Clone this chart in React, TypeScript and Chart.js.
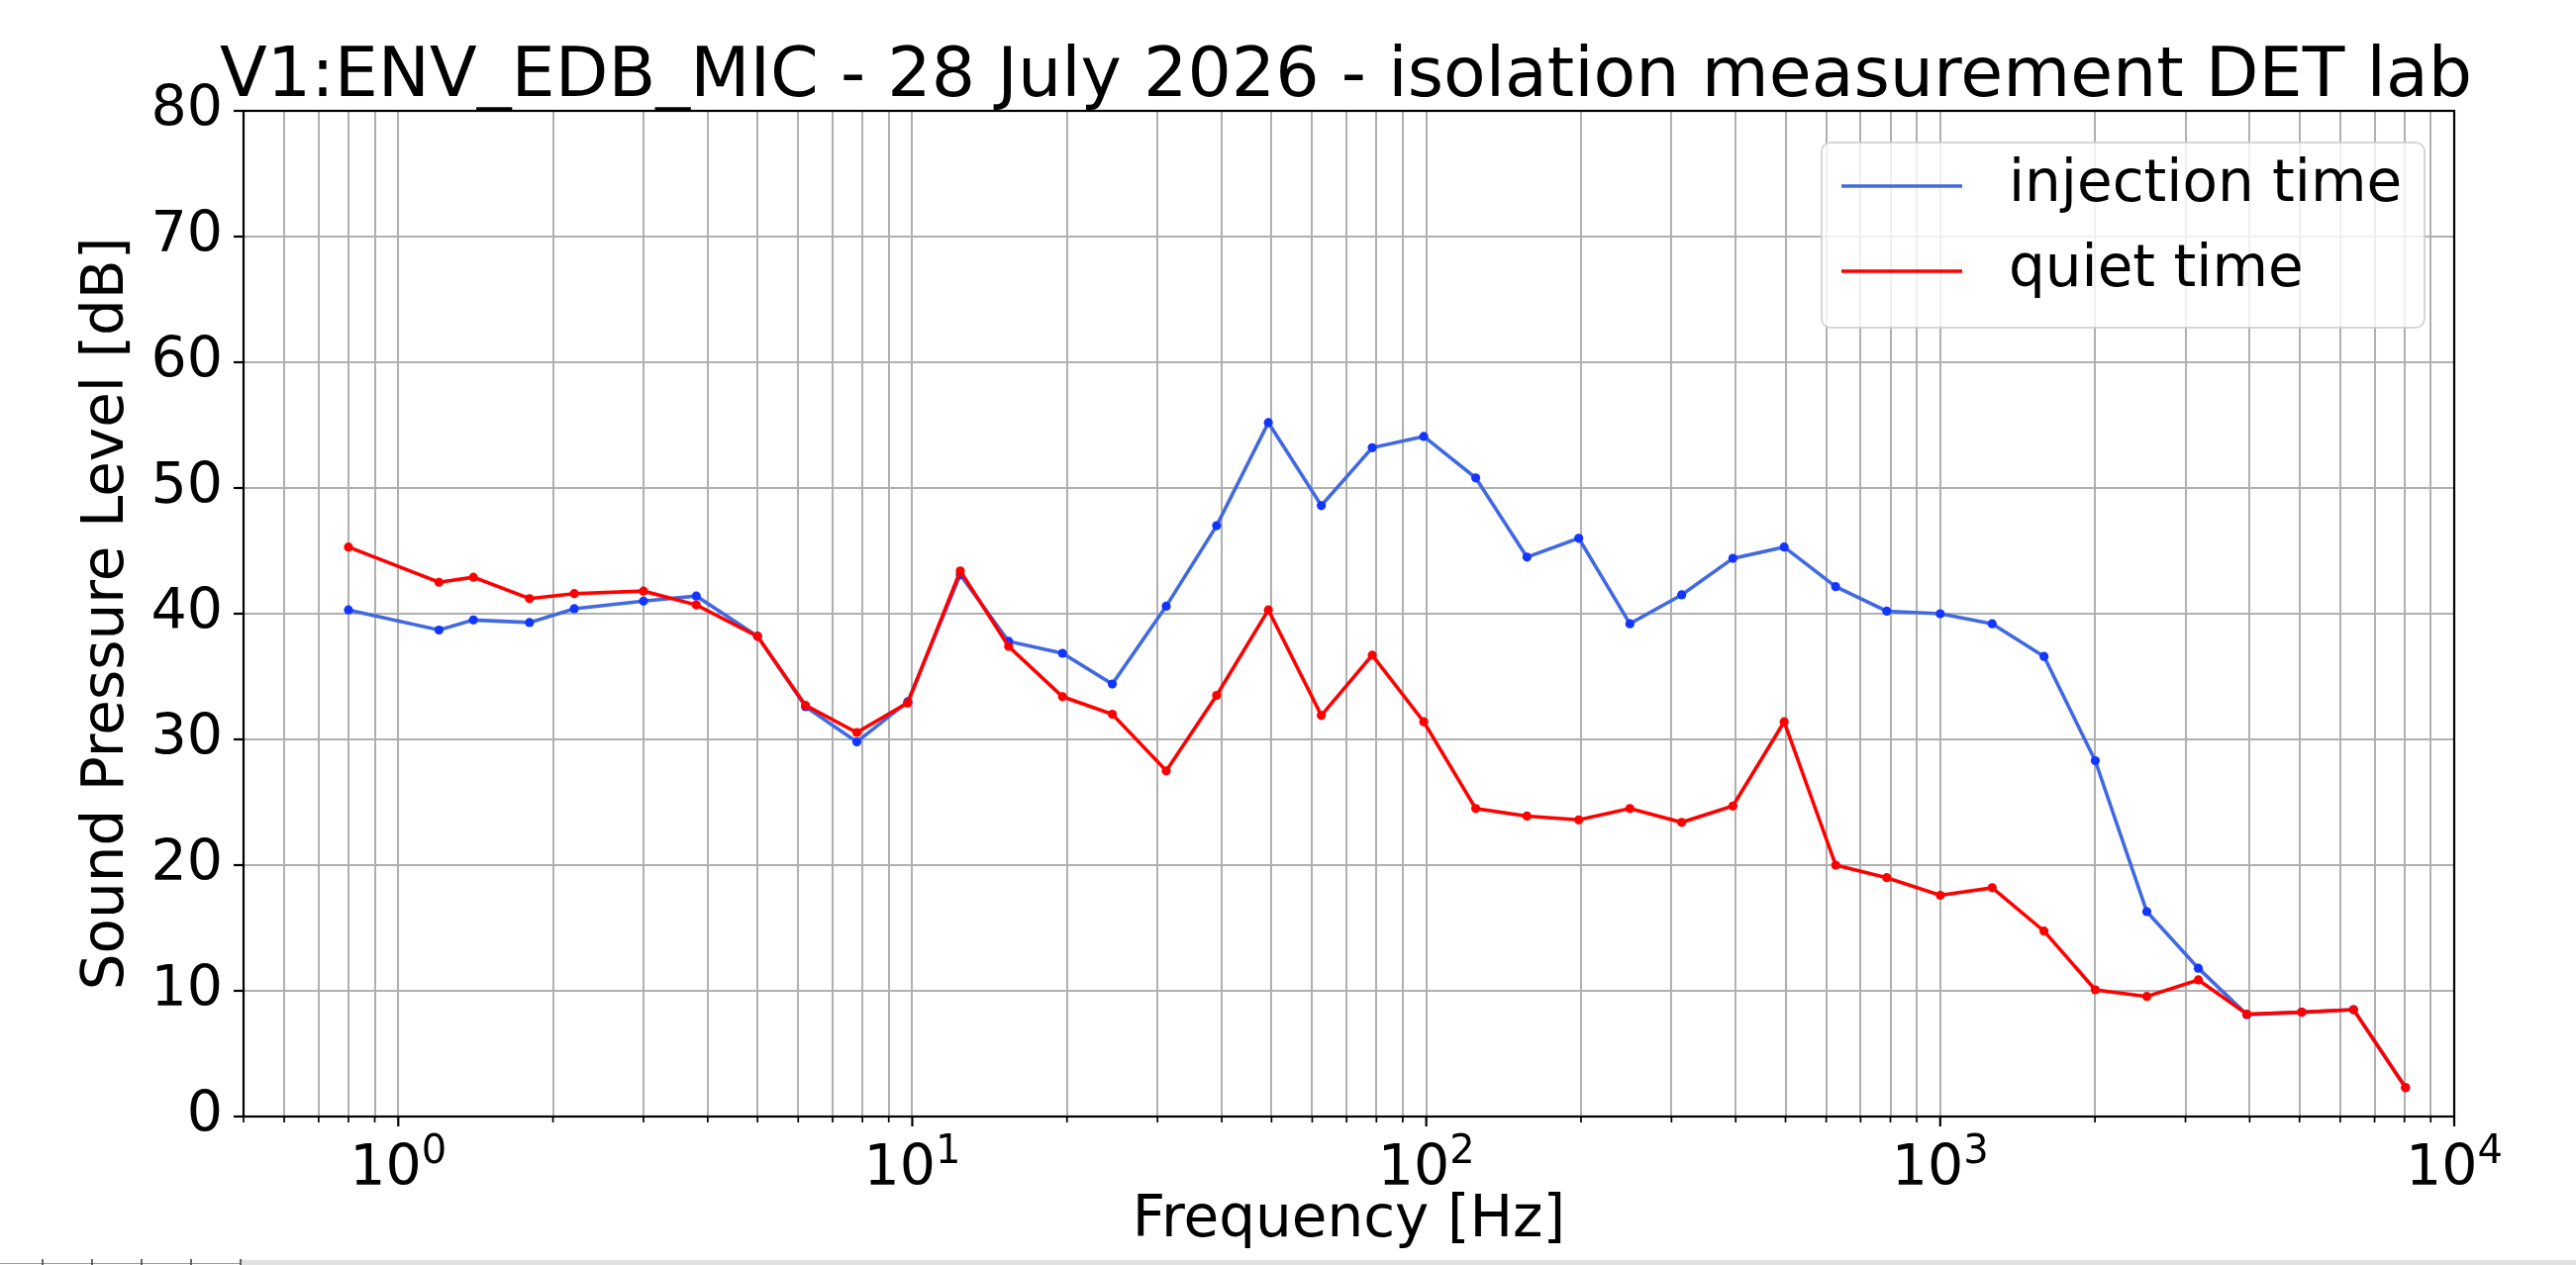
import React, { useEffect, useRef } from 'react';
import { Chart, registerables } from 'chart.js';

Chart.register(...registerables);

// ---------------- data ----------------
const titleText = 'V1:ENV_EDB_MIC - 28 July 2026 - isolation measurement DET lab';
const xAxisTitle = 'Frequency [Hz]';
const yAxisTitle = 'Sound Pressure Level [dB]';
const seriesLabels = ['injection time', 'quiet time'];

const frequencies = [
  0.8, 1.2, 1.4, 1.8, 2.2, 3.0, 3.8, 5.0, 6.2, 7.8,
  9.8, 12.4, 15.4, 19.6, 24.5, 31.2, 39.1, 49.3, 62.5, 78.5,
  98.9, 124.8, 157, 198, 249, 314, 395, 497, 626, 787,
  1000, 1262, 1592, 2003, 2523, 3178, 3950, 5050, 6370, 8040,
];

const injectionTime = [
  40.3, 38.7, 39.5, 39.3, 40.4, 41.0, 41.4, 38.2, 32.6, 29.8,
  33.0, 43.1, 37.8, 36.85, 34.4, 40.6, 47.0, 55.2, 48.6, 53.2,
  54.1, 50.8, 44.5, 46.0, 39.2, 41.5, 44.4, 45.3, 42.15, 40.2,
  40.0, 39.2, 36.6, 28.3, 16.3, 11.8, 8.1, 8.3, 8.5, 2.3,
];

const quietTime = [
  45.3, 42.5, 42.9, 41.2, 41.6, 41.8, 40.7, 38.2, 32.7, 30.55,
  32.9, 43.4, 37.4, 33.4, 32.0, 27.5, 33.5, 40.3, 31.9, 36.7,
  31.4, 24.5, 23.9, 23.6, 24.5, 23.4, 24.7, 31.4, 20.0, 19.0,
  17.6, 18.2, 14.75, 10.08, 9.55, 10.87, 8.15, 8.3, 8.5, 2.3,
];

const yTickValues = [0, 10, 20, 30, 40, 50, 60, 70, 80];
const xMajorTicks = [1, 10, 100, 1000, 10000];
const xTickBase = '10';
const xTickExponents = ['0', '1', '2', '3', '4'];
const xMin = 0.5;
const xMax = 10000;

// ---------------- styling ----------------
const W = 2602;
const H = 1278;
const FONT = "'DejaVu Sans', 'Liberation Sans', sans-serif";
const BLUE_LINE = '#4169E1';
const BLUE_MARK = '#1236ff';
const RED = '#ff0000';
const GRID = '#b0b0b0';
const TICK_FONT = 57;
const LABEL_FONT = 58;
const TITLE_FONT = 69.8;

const titlePlugin = {
  id: 'mplTitle',
  afterDraw(chart: any) {
    const { ctx, chartArea: a } = chart;
    ctx.save();
    ctx.fillStyle = '#000';
    ctx.font = `${TITLE_FONT}px ${FONT}`;
    ctx.textAlign = 'center';
    ctx.textBaseline = 'alphabetic';
    ctx.fillText(titleText, (a.left + a.right) / 2 - 3, a.top - 15.5);
    ctx.restore();
  },
};

const framePlugin = {
  id: 'mplFrame',
  afterDatasetsDraw(chart: any) {
    const { ctx, chartArea: a, scales } = chart;
    const xs = scales.x;
    const ys = scales.y;
    ctx.save();
    ctx.strokeStyle = '#000';
    ctx.lineCap = 'butt';
    ctx.lineWidth = 2.2;
    ys.ticks.forEach((t: any) => {
      const y = ys.getPixelForValue(t.value);
      ctx.beginPath();
      ctx.moveTo(a.left - 10, y);
      ctx.lineTo(a.left, y);
      ctx.stroke();
    });
    xs.ticks.forEach((t: any) => {
      const x = xs.getPixelForValue(t.value);
      ctx.lineWidth = t.major ? 2.2 : 1.7;
      ctx.beginPath();
      ctx.moveTo(x, a.bottom);
      ctx.lineTo(x, a.bottom + (t.major ? 10 : 6));
      ctx.stroke();
    });
    ctx.lineWidth = 2.2;
    ctx.strokeRect(a.left, a.top, a.right - a.left, a.bottom - a.top);
    ctx.restore();
  },
};

// power-of-ten labels (base + raised exponent), placed with the x scale
const xPowerLabelPlugin = {
  id: 'xPowerLabels',
  afterDraw(chart: any) {
    const { ctx, chartArea: a, scales } = chart;
    const xs = scales.x;
    ctx.save();
    ctx.fillStyle = '#000';
    ctx.textAlign = 'left';
    ctx.textBaseline = 'alphabetic';
    xMajorTicks.forEach((v, i) => {
      const px = xs.getPixelForValue(v);
      const exp = xTickExponents[i];
      ctx.font = `${TICK_FONT}px ${FONT}`;
      const wb = ctx.measureText(xTickBase).width;
      ctx.font = `40px ${FONT}`;
      const we = ctx.measureText(exp).width;
      const left = px - (wb + we) / 2;
      ctx.font = `${TICK_FONT}px ${FONT}`;
      ctx.fillText(xTickBase, left, a.bottom + 69);
      ctx.font = `40px ${FONT}`;
      ctx.fillText(exp, left + wb, a.bottom + 47);
    });
    ctx.restore();
  },
};

const legendPlugin = {
  id: 'mplLegend',
  afterDraw(chart: any) {
    const { ctx, chartArea: a } = chart;
    const right = a.right - 30;
    const top = a.top + 32;
    const w = 609;
    const h = 187;
    const left = right - w;
    const r = 9;
    ctx.save();
    ctx.beginPath();
    ctx.moveTo(left + r, top);
    ctx.lineTo(right - r, top);
    ctx.arcTo(right, top, right, top + r, r);
    ctx.lineTo(right, top + h - r);
    ctx.arcTo(right, top + h, right - r, top + h, r);
    ctx.lineTo(left + r, top + h);
    ctx.arcTo(left, top + h, left, top + h - r, r);
    ctx.lineTo(left, top + r);
    ctx.arcTo(left, top, left + r, top, r);
    ctx.closePath();
    ctx.fillStyle = 'rgba(255,255,255,0.8)';
    ctx.fill();
    ctx.strokeStyle = 'rgba(204,204,204,0.8)';
    ctx.lineWidth = 2;
    ctx.stroke();

    const rows = [top + 44, top + 130];
    chart.data.datasets.forEach((ds: any, i: number) => {
      const y = rows[i];
      ctx.strokeStyle = ds.borderColor;
      ctx.lineWidth = 3.6;
      ctx.beginPath();
      ctx.moveTo(left + 20, y);
      ctx.lineTo(left + 142, y);
      ctx.stroke();
      ctx.fillStyle = '#000';
      ctx.font = `${LABEL_FONT}px ${FONT}`;
      ctx.textAlign = 'left';
      ctx.textBaseline = 'middle';
      ctx.fillText(ds.label, left + 189, y);
    });
    ctx.restore();
  },
};

const artifactPlugin = {
  id: 'bottomArtifact',
  afterDraw(chart: any) {
    const { ctx } = chart;
    ctx.save();
    ctx.fillStyle = '#e2e2e2';
    ctx.fillRect(243, 1273, W - 243, 5);
    ctx.strokeStyle = '#9a9a9a';
    ctx.lineWidth = 1.2;
    ctx.beginPath();
    ctx.moveTo(0, 1276.5);
    ctx.lineTo(243, 1276.5);
    ctx.stroke();
    ctx.strokeStyle = '#333';
    ctx.lineWidth = 1.5;
    [43, 93, 143, 193, 243].forEach((x) => {
      ctx.beginPath();
      ctx.moveTo(x, 1272);
      ctx.lineTo(x, 1278);
      ctx.stroke();
    });
    ctx.restore();
  },
};

export default function App() {
  const canvasRef = useRef<HTMLCanvasElement | null>(null);

  useEffect(() => {
    const canvas = canvasRef.current;
    if (!canvas) return;
    Chart.defaults.font.family = FONT;
    Chart.defaults.color = '#000';

    const chart = new Chart(canvas, {
      type: 'line',
      data: {
        datasets: [
          {
            label: seriesLabels[0],
            data: frequencies.map((f, i) => ({ x: f, y: injectionTime[i] })),
            borderColor: BLUE_LINE,
            backgroundColor: BLUE_MARK,
            pointBackgroundColor: BLUE_MARK,
            pointBorderColor: BLUE_MARK,
            pointBorderWidth: 0,
            pointRadius: 4.6,
            borderWidth: 3.6,
            tension: 0,
            fill: false,
            order: 1,
          },
          {
            label: seriesLabels[1],
            data: frequencies.map((f, i) => ({ x: f, y: quietTime[i] })),
            borderColor: RED,
            backgroundColor: RED,
            pointBackgroundColor: RED,
            pointBorderColor: RED,
            pointBorderWidth: 0,
            pointRadius: 4.6,
            borderWidth: 3.6,
            tension: 0,
            fill: false,
            order: 0,
          },
        ],
      },
      options: {
        responsive: false,
        maintainAspectRatio: false,
        animation: false,
        devicePixelRatio: 1,
        events: [],
        layout: { padding: { left: 0, right: 123, top: 112, bottom: 0 } },
        plugins: {
          legend: { display: false },
          tooltip: { enabled: false },
          title: { display: false },
        },
        scales: {
          x: {
            type: 'logarithmic',
            min: xMin,
            max: xMax,
            afterFit: (s: any) => {
              s.height = 150;
            },
            afterBuildTicks: (s: any) => {
              const ticks: any[] = [];
              for (let e = -1; e <= 4; e++) {
                for (let m = 1; m <= 9; m++) {
                  const v = Math.round(m * Math.pow(10, e) * 1000) / 1000;
                  if (v >= xMin - 1e-9 && v <= xMax + 1e-9) {
                    ticks.push({ value: v, major: m === 1 });
                  }
                }
              }
              s.ticks = ticks;
            },
            grid: {
              color: GRID,
              lineWidth: 2,
              drawTicks: false,
            },
            border: { display: false },
            ticks: {
              display: false,
              autoSkip: false,
              maxRotation: 0,
              minRotation: 0,
              callback: () => '',
            },
            title: {
              display: true,
              text: xAxisTitle,
              color: '#000',
              font: { family: FONT, size: LABEL_FONT },
              padding: { top: 0, bottom: 9 },
            },
          },
          y: {
            type: 'linear',
            min: 0,
            max: 80,
            afterFit: (s: any) => {
              s.width = 246;
            },
            afterBuildTicks: (s: any) => {
              s.ticks = yTickValues.map((v) => ({ value: v }));
            },
            grid: {
              color: GRID,
              lineWidth: 2,
              drawTicks: false,
            },
            border: { display: false },
            ticks: {
              padding: 21,
              color: '#000',
              font: { family: FONT, size: TICK_FONT },
              callback: (value: any) => String(value),
            },
            title: {
              display: true,
              text: yAxisTitle,
              color: '#000',
              font: { family: FONT, size: LABEL_FONT },
              padding: { top: 74, bottom: 0 },
            },
          },
        },
      },
      plugins: [framePlugin, xPowerLabelPlugin, legendPlugin, titlePlugin, artifactPlugin],
    } as any);

    return () => {
      chart.destroy();
    };
  }, []);

  return (
    <div
      style={{
        position: 'fixed',
        left: 0,
        top: 0,
        width: W,
        height: H,
        background: '#fff',
      }}
    >
      <canvas ref={canvasRef} width={W} height={H} style={{ width: W, height: H, display: 'block' }} />
    </div>
  );
}
